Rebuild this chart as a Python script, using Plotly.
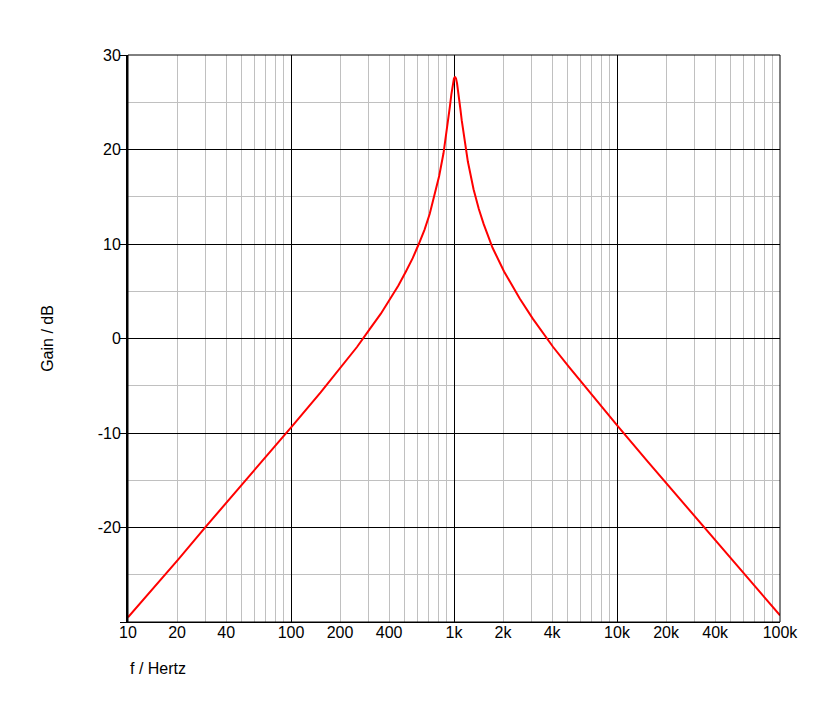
import plotly.graph_objects as go

# Frequency response
freq_hz = [10, 15.2, 20.3, 30.4, 40.6, 50.7, 60.8, 71, 81.1, 101.4, 152, 203, 254, 304, 355,
           406, 456, 507, 558, 608, 659, 710, 760, 811, 862, 913, 943, 963, 984, 999,
           1014, 1029, 1044, 1065, 1095, 1115, 1166, 1217, 1318, 1420, 1521, 1724, 2028,
           2535, 3042, 4056, 5070, 7098, 10140, 15210, 20280, 30420, 40560, 50700, 70980, 100000]
gain_db = [-29.5, -25.9, -23.4, -19.8, -17.3, -15.4, -13.8, -12.4, -11.3, -9.3, -5.7, -3.0, -0.9, 1.0, 2.6,
           4.2, 5.6, 7.1, 8.5, 10.0, 11.5, 13.2, 15.1, 17.2, 19.6, 22.5, 24.5, 25.8, 26.95, 27.5,
           27.7, 27.5, 27.0, 26.0, 24.25, 23.1, 20.7, 18.7, 15.8, 13.7, 12.1, 9.6, 7.1,
           4.2, 2.1, -0.9, -3.0, -6.1, -9.3, -12.9, -15.4, -18.9, -21.4, -23.4, -26.3, -29.3]

x_tick_vals = [10, 20, 40, 100, 200, 400, 1000, 2000, 4000, 10000, 20000, 40000, 100000]
x_tick_text = ["10", "20", "40", "100", "200", "400", "1k", "2k", "4k", "10k", "20k", "40k", "100k"]
x_decades = [10, 100, 1000, 10000, 100000]
x_minor = [m * d for d in [10, 100, 1000, 10000] for m in range(2, 10)]
y_tick_vals = [-30, -20, -10, 0, 10, 20, 30]
y_tick_text = ["", "-20", "-10", "0", "10", "20", "30"]
y_minor = [-25, -15, -5, 5, 15, 25]

font_family = "Liberation Sans, Arial, sans-serif"

fig = go.Figure()
fig.add_trace(go.Scatter(x=freq_hz, y=gain_db, mode="lines",
                         line=dict(color="#ff0000", width=2), showlegend=False,
                         hoverinfo="skip"))
fig.add_trace(go.Scatter(x=[], y=[], xaxis="x2", yaxis="y", showlegend=False))

fig.update_layout(
    width=826, height=715,
    margin=dict(l=120, r=54, t=47, b=101),
    paper_bgcolor="white", plot_bgcolor="white",
    font=dict(family=font_family, size=16, color="black"),
    xaxis=dict(type="log", range=[1, 5], tickmode="array", tickvals=x_tick_vals,
               ticktext=x_tick_text, showgrid=False, ticks="", zeroline=False,
               showline=True, linecolor="black", linewidth=1, ticklabelstandoff=-4,
               tickfont=dict(size=16, color="black"),
               minor=dict(tickmode="array", tickvals=x_minor, showgrid=True,
                          gridcolor="#c0c0c0", gridwidth=1, ticks="")),
    xaxis2=dict(type="log", range=[1, 5], overlaying="x", anchor="y", tickmode="array",
                tickvals=x_decades, showticklabels=False, showgrid=True,
                gridcolor="black", gridwidth=1, ticks="", zeroline=False, showline=False),
    yaxis=dict(range=[-30, 30], tickmode="array", tickvals=y_tick_vals, ticktext=y_tick_text,
               showgrid=True, gridcolor="black", gridwidth=1, zeroline=False,
               ticks="outside", ticklen=6, tickcolor="black", tickwidth=1,
               showline=True, linecolor="black", linewidth=2, ticklabelstandoff=-4,
               tickfont=dict(size=16, color="black"),
               title=dict(text="Gain / dB", font=dict(size=16, color="black"), standoff=40),
               minor=dict(tickmode="array", tickvals=y_minor, showgrid=True,
                          gridcolor="#c0c0c0", gridwidth=1, ticks="")),
    shapes=[dict(type="rect", xref="paper", yref="paper", x0=0, x1=1, y0=0, y1=1,
                 line=dict(color="black", width=1), layer="above")],
    annotations=[dict(text="f / Hertz", xref="paper", yref="paper", x=0, y=0,
                      xanchor="left", yanchor="middle", yshift=-46, showarrow=False,
                      font=dict(size=16, color="black"))],
)

fig.write_html("out.html")
